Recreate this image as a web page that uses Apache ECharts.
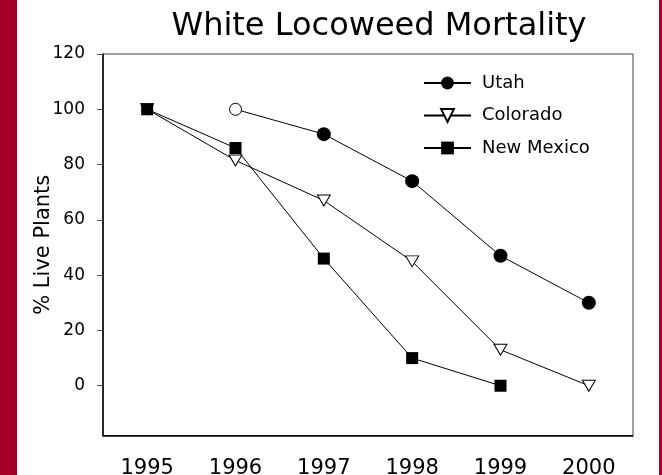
<!DOCTYPE html>
<html><head><meta charset="utf-8">
<script src="https://cdn.jsdelivr.net/npm/echarts@6/dist/echarts.min.js"></script>
<style>html,body{margin:0;padding:0;background:#fff}#c{width:662px;height:475px}</style>
</head><body><div id="c"></div>
<script>
const years = ['1995', '1996', '1997', '1998', '1999', '2000'];
const utah = [null, 100, 91, 74, 47, 30];
const utahOpen = [false, true, false, false, false, false];
const colorado = [100, 81.5, 67, 45, 13, 0];
const newMexico = [100, 86, 46, 10, 0, null];
const yTicks = [0, 20, 40, 60, 80, 100, 120];
const seriesNames = ['Utah', 'Colorado', 'New Mexico'];
const titleText = 'White Locoweed Mortality';
const yName = '% Live Plants';

const FONT = 'DejaVu Sans';
const RED = '#a50026';

const chart = echarts.init(document.getElementById('c'), null, {renderer: 'canvas'});
const toData = arr => arr.map(v => v == null ? '-' : v);

chart.setOption({
  animation: false,
  backgroundColor: '#fff',
  title: {
    text: titleText, left: 374, top: 6, textAlign: 'center',
    textStyle: {fontFamily: FONT, fontSize: 32, fontWeight: 'normal', color: '#000'}
  },
  legend: {
    orient: 'vertical', left: 418, top: 69, itemWidth: 47, itemHeight: 16, itemGap: 14.5,
    data: seriesNames,
    textStyle: {fontFamily: FONT, fontSize: 18, color: '#000', padding: [0, 0, 0, 6]}
  },
  grid: {left: 103, top: 54, width: 530, height: 381.5, outerBoundsMode: 'none', containLabel: false,
    show: true, borderColor: '#444', borderWidth: 1, backgroundColor: 'transparent'},
  xAxis: {
    type: 'category', data: years, boundaryGap: true,
    axisLine: {onZero: false, lineStyle: {color: '#000', width: 1.5}},
    axisTick: {alignWithLabel: true, length: 5, lineStyle: {color: '#555'}},
    axisLabel: {fontFamily: FONT, fontSize: 21, color: '#000', margin: 23},
    splitLine: {show: false}
  },
  yAxis: {
    type: 'value', min: -18, max: 120,
    name: yName, nameLocation: 'middle', nameGap: 49, nameMoveOverlap: false,
    nameTextStyle: {fontFamily: FONT, fontSize: 21, color: '#000'},
    axisLine: {show: true, lineStyle: {color: '#000', width: 1.5}},
    axisTick: {show: true, length: 6, customValues: yTicks, lineStyle: {color: '#555'}},
    axisLabel: {fontFamily: FONT, fontSize: 17, color: '#000', margin: 18, customValues: yTicks},
    splitLine: {show: false}
  },
  graphic: [
    {type: 'rect', left: 0, top: 0, shape: {width: 17, height: 475}, style: {fill: RED}, z: 100},
    {type: 'rect', left: 659, top: 0, shape: {width: 3, height: 475}, style: {fill: RED}, z: 100}
  ],
  series: [
    {
      name: seriesNames[0], type: 'line',
      data: utah.map((v, i) => v == null ? '-' : (utahOpen[i]
        ? {value: v, symbolSize: 12, itemStyle: {color: '#fff', borderColor: '#000', borderWidth: 1}}
        : v)),
      symbol: 'circle', symbolSize: 14,
      itemStyle: {color: '#000'}, lineStyle: {color: '#000', width: 1}
    },
    {
      name: seriesNames[1], type: 'line', data: toData(colorado),
      symbol: 'triangle', symbolRotate: 180, symbolSize: [13, 11],
      itemStyle: {color: '#fff', borderColor: '#000', borderWidth: 1}, lineStyle: {color: '#000', width: 1}
    },
    {
      name: seriesNames[2], type: 'line', data: toData(newMexico),
      symbol: 'rect', symbolSize: 12,
      itemStyle: {color: '#000'}, lineStyle: {color: '#000', width: 1}
    }
  ]
});
</script></body></html>
